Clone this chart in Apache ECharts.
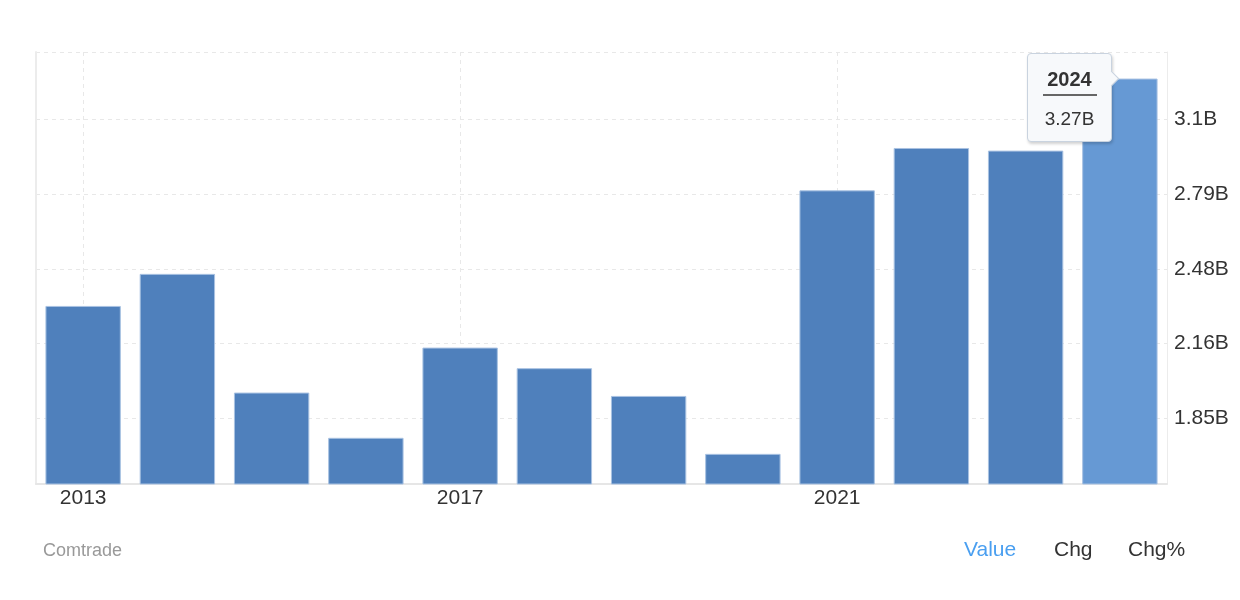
<!DOCTYPE html>
<html>
<head>
<meta charset="utf-8">
<script src="https://cdn.jsdelivr.net/npm/echarts@6/dist/echarts.min.js"></script>
<style>
  html, body { margin: 0; padding: 0; background: #fff; }
  #chart { width: 1240px; height: 600px; }
</style>
</head>
<body>
<div id="chart"></div>
<script>
const years = ['2013','2014','2015','2016','2017','2018','2019','2020','2021','2022','2023','2024'];
const values = [2.32, 2.454, 1.958, 1.769, 2.146, 2.060, 1.944, 1.702, 2.803, 2.980, 2.969, 3.27];
const tickValues = [1.85, 2.1625, 2.475, 2.7875, 3.1];
const tickLabels = ['1.85B', '2.16B', '2.48B', '2.79B', '3.1B'];
const axisMin = 1.576;
const axisMax = 3.381;
const footerSource = 'Comtrade';
const footerTabs = ['Value', 'Chg', 'Chg%'];

const chart = echarts.init(document.getElementById('chart'), null, { renderer: 'canvas' });
const FONT = '"Liberation Sans", Arial, Helvetica, sans-serif';
const last = values.length - 1;

const tipHtml = (p) =>
  '<div style="position:relative;width:85px;height:89px;box-sizing:border-box;background:#f7f9fb;' +
  'border:1px solid #c9d3df;border-radius:4px;box-shadow:1px 2px 3px rgba(0,0,0,0.18);' +
  'font-family:' + FONT.replace(/"/g, "'") + ';color:#333;text-align:center;">' +
  '<div style="position:absolute;right:-6px;top:19px;width:10px;height:10px;background:#f7f9fb;' +
  'border-top:1px solid #c9d3df;border-right:1px solid #c9d3df;transform:rotate(45deg);"></div>' +
  '<div style="padding-top:14px;font-weight:bold;font-size:20px;line-height:22px;">' + p.name + '</div>' +
  '<div style="margin:4px auto 0;width:54px;border-top:2px solid #666;"></div>' +
  '<div style="padding-top:12px;font-size:19px;line-height:22px;">' + p.value.toFixed(2) + 'B</div>' +
  '</div>';

const option = {
  animation: false,
  backgroundColor: '#fff',
  grid: { left: 36, right: 73, top: 52, bottom: 116, show: false },
  tooltip: {
    trigger: 'item',
    triggerOn: 'none',
    alwaysShowContent: true,
    position: [1027, 53],
    padding: 0,
    borderWidth: 0,
    backgroundColor: 'transparent',
    extraCssText: 'box-shadow:none;',
    formatter: tipHtml
  },
  xAxis: {
    type: 'category',
    data: years,
    boundaryGap: true,
    axisLine: { show: true, lineStyle: { color: '#e6e6e6', width: 2 } },
    axisTick: { show: false, alignWithLabel: true, interval: 3 },
    axisLabel: { interval: 3, color: '#333', fontSize: 21, fontFamily: FONT, margin: 4 },
    splitLine: { show: true, interval: 3, alignWithLabel: true, lineStyle: { color: '#e8e8e8', type: [4, 4], width: 1 } }
  },
  yAxis: [{
    type: 'value',
    position: 'right',
    min: axisMin,
    max: axisMax,
    axisLine: { show: true, lineStyle: { color: '#ececec', width: 1 } },
    axisTick: { show: false, customValues: tickValues.concat([axisMax]) },
    axisLabel: {
      customValues: tickValues,
      color: '#333', fontSize: 21, fontFamily: FONT, margin: 7,
      formatter: (v) => {
        let best = 0;
        tickValues.forEach((t, i) => { if (Math.abs(t - v) < Math.abs(tickValues[best] - v)) best = i; });
        return tickLabels[best];
      }
    },
    splitLine: { show: true, lineStyle: { color: '#e8e8e8', type: [4, 4], width: 1 } }
  }, {
    type: 'value',
    position: 'left',
    min: axisMin,
    max: axisMax,
    axisLine: { show: true, lineStyle: { color: '#ececec', width: 2 } },
    axisTick: { show: false },
    axisLabel: { show: false },
    splitLine: { show: false }
  }],
  series: [{
    type: 'bar',
    data: values,
    barCategoryGap: '20%',
    itemStyle: {
      color: (p) => p.dataIndex === last ? '#6699d4' : '#4f80bc',
      borderColor: '#a9c2e2',
      borderWidth: 1
    },
    emphasis: { disabled: true }
  }],
  graphic: [
    { type: 'text', left: 43, top: 542, style: { text: footerSource, fill: '#999', font: '18px ' + FONT } },
    { type: 'text', left: 964, top: 540, style: { text: footerTabs[0], fill: '#4a9ff0', font: '21px ' + FONT } },
    { type: 'text', left: 1054, top: 540, style: { text: footerTabs[1], fill: '#333', font: '21px ' + FONT } },
    { type: 'text', left: 1128, top: 540, style: { text: footerTabs[2], fill: '#333', font: '21px ' + FONT } }
  ]
};
chart.setOption(option);
chart.dispatchAction({ type: 'showTip', seriesIndex: 0, dataIndex: last });
</script>
</body>
</html>
